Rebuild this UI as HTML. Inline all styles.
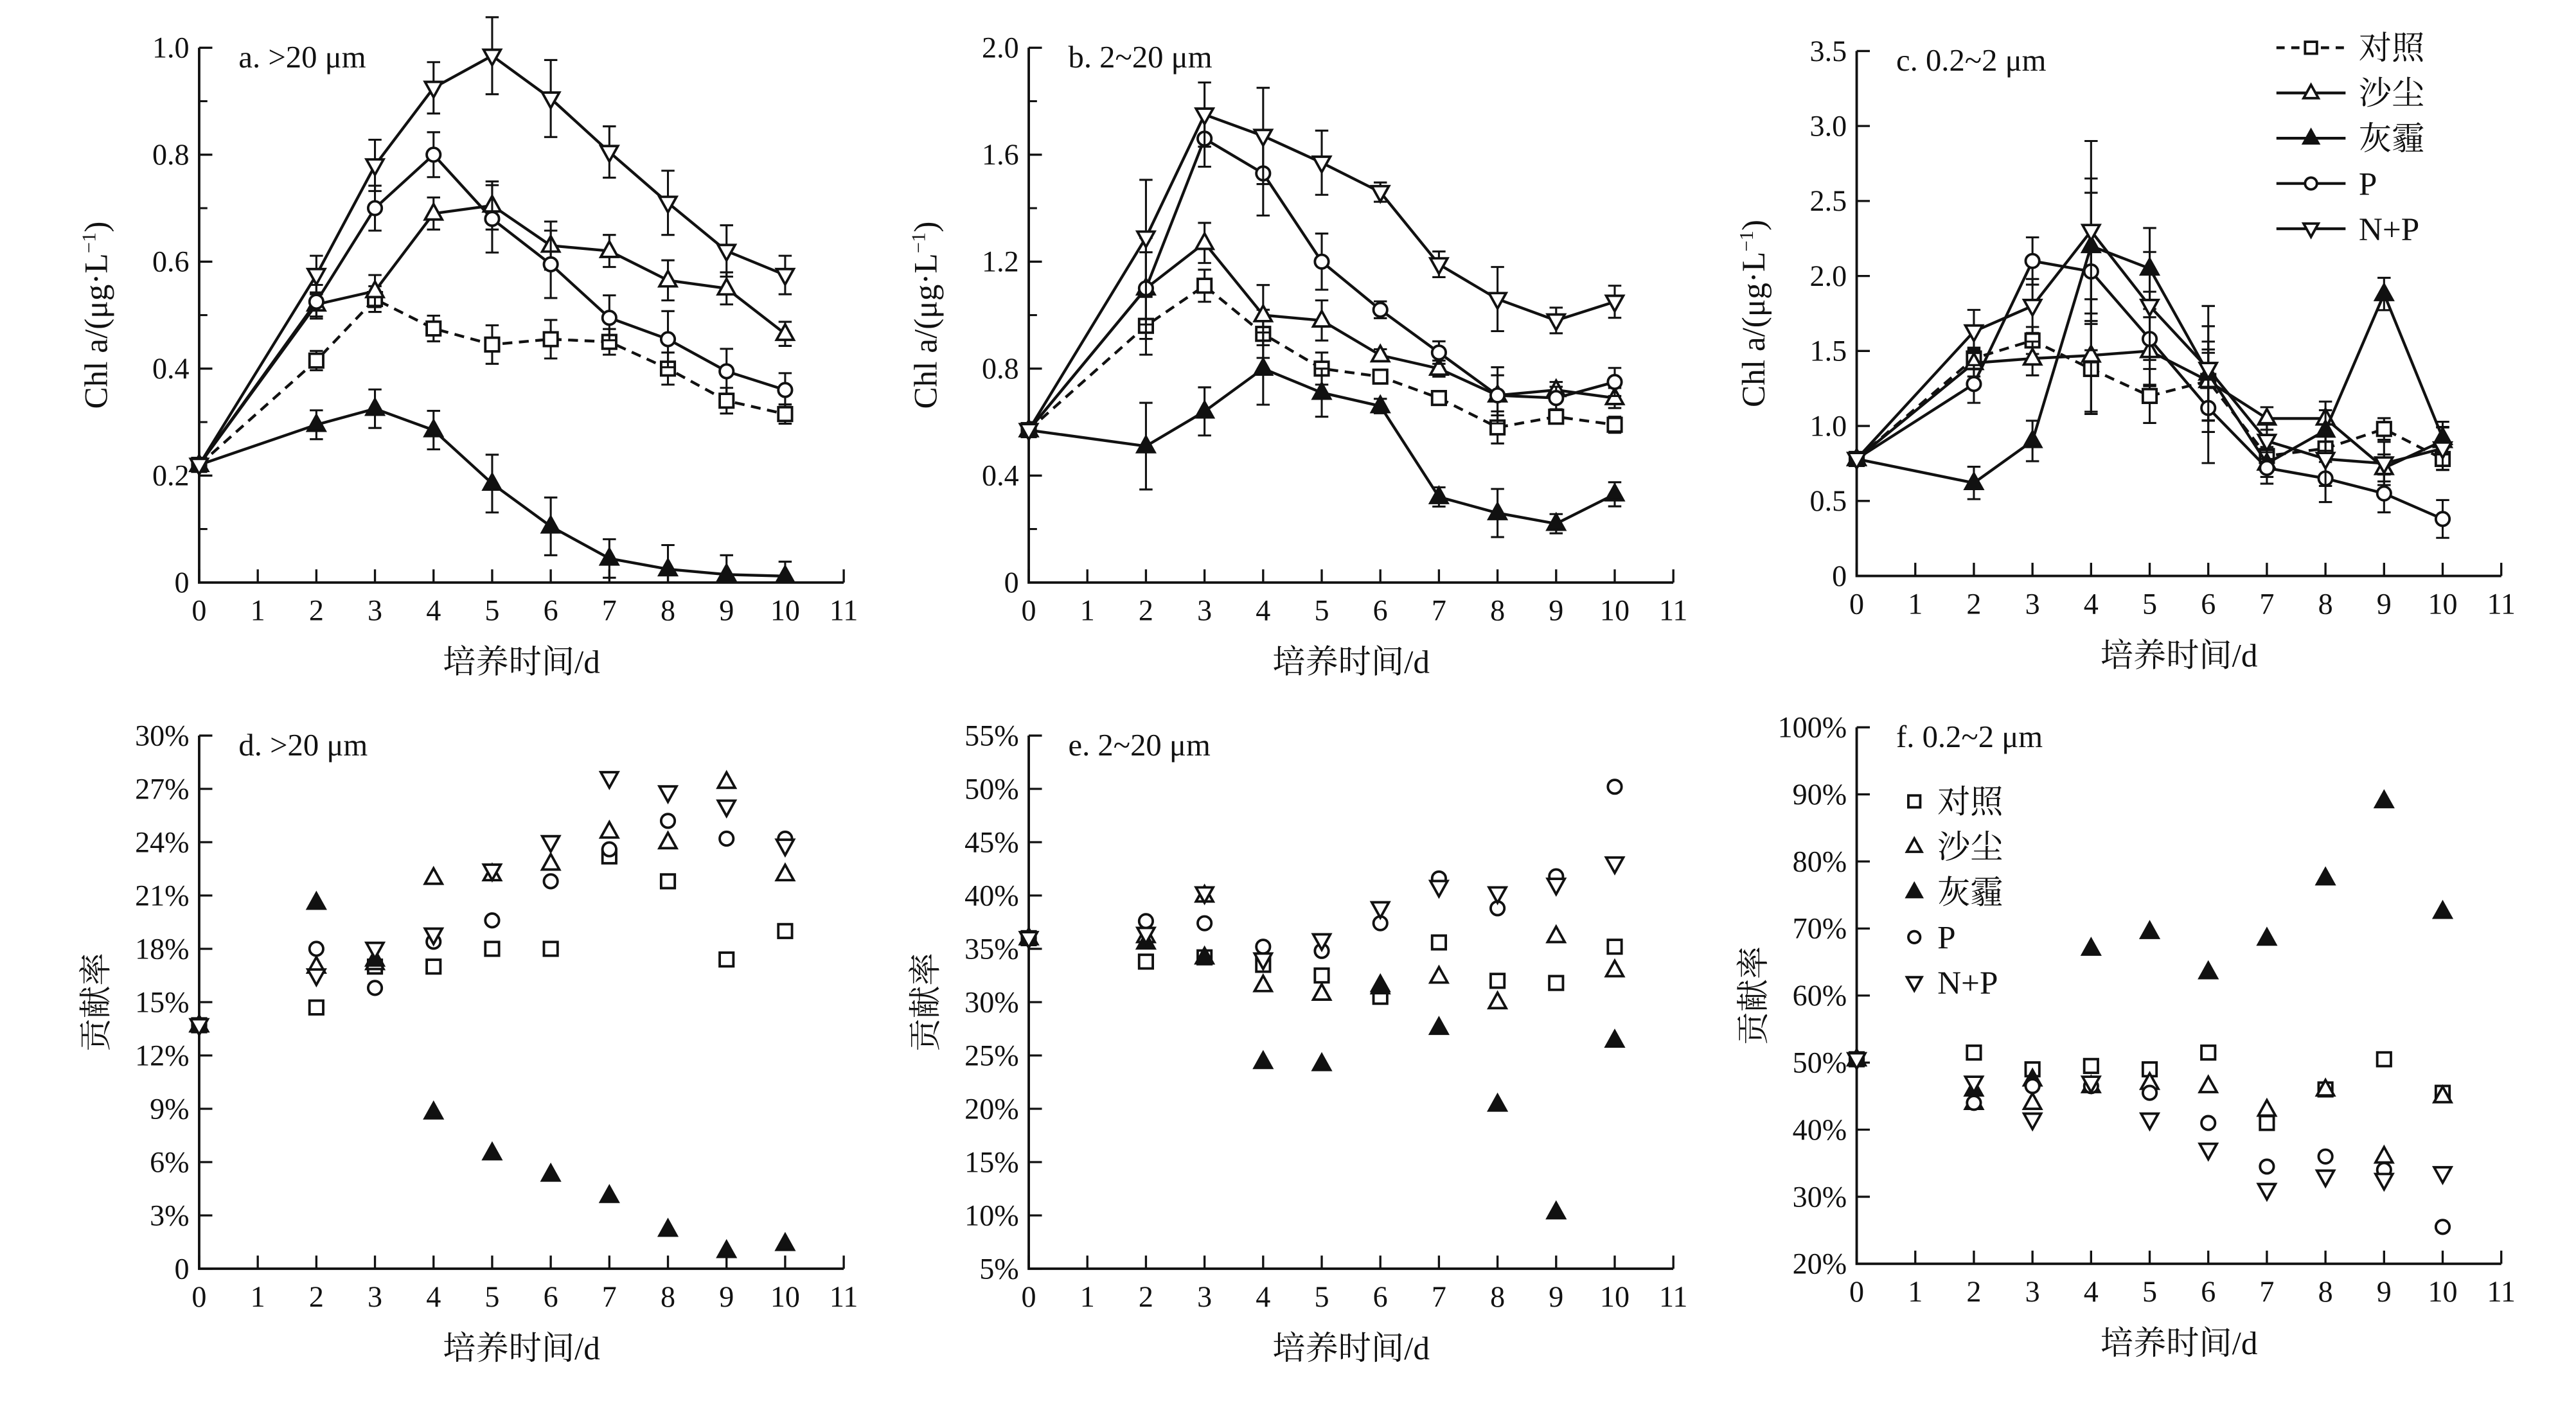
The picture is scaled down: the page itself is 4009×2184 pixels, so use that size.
<!DOCTYPE html>
<html><head><meta charset="utf-8">
<style>
html,body{margin:0;padding:0;background:#fff;}
svg{display:block;}
text{font-family:"Liberation Serif","Noto Serif CJK SC","Noto Sans CJK SC",serif;fill:#111;}
</style></head>
<body>
<svg id="chart" xmlns="http://www.w3.org/2000/svg" width="4009" height="2184" viewBox="0 0 1565 852.6" preserveAspectRatio="none"></svg>
<script>
const days=[0,2,3,4,5,6,7,8,9,10];
const seriesNames=["对照","沙尘","灰霾","P","N+P"];
// Panel a (>20 μm)
const aCtrl=[0.22,0.415,0.53,0.475,0.445,0.455,0.45,0.40,0.34,0.315];
const aDust=[0.22,0.52,0.545,0.69,0.705,0.63,0.62,0.565,0.55,0.465];
const aHaze=[0.22,0.295,0.325,0.285,0.185,0.105,0.045,0.025,0.015,0.012];
const aP=[0.22,0.525,0.70,0.80,0.68,0.595,0.495,0.455,0.395,0.36];
const aNP=[0.22,0.575,0.78,0.925,0.985,0.905,0.805,0.71,0.62,0.575];
const aErr=[0,0.03,0.04,0.04,0.06,0.06,0.04,0.05,0.04,0.03];
// Panel b (2~20 μm)
const bCtrl=[0.57,0.96,1.11,0.93,0.80,0.77,0.69,0.58,0.62,0.59];
const bDust=[0.57,1.10,1.27,1.00,0.98,0.85,0.80,0.70,0.72,0.69];
const bHaze=[0.57,0.51,0.64,0.80,0.71,0.66,0.32,0.26,0.22,0.33];
const bP=[0.57,1.10,1.66,1.53,1.20,1.02,0.86,0.70,0.69,0.75];
const bNP=[0.57,1.29,1.75,1.67,1.57,1.46,1.19,1.06,0.98,1.05];
const bErr=[0,0.18,0.1,0.15,0.1,0.03,0.04,0.1,0.04,0.05];
// Panel c (0.2~2 μm)
const cCtrl=[0.78,1.45,1.57,1.38,1.20,1.30,0.80,0.85,0.98,0.78];
const cDust=[0.78,1.42,1.45,1.47,1.50,1.30,1.05,1.05,0.72,0.90];
const cHaze=[0.78,0.62,0.90,2.20,2.05,1.35,0.75,0.97,1.88,0.92];
const cP=[0.78,1.28,2.10,2.03,1.58,1.12,0.72,0.65,0.55,0.38];
const cNP=[0.78,1.63,1.80,2.30,1.80,1.38,0.90,0.78,0.75,0.85];
const cErr=[0,0.12,0.15,0.5,0.3,0.35,0.1,0.15,0.12,0.12];
// Panel d (%)
const dCtrl=[13.7,14.7,17.0,17.0,18.0,18.0,23.2,21.8,17.4,19.0];
const dDust=[13.7,17.0,17.2,22.0,22.2,22.8,24.6,24.0,27.4,22.2];
const dHaze=[13.7,20.6,17.4,8.8,6.5,5.3,4.1,2.2,1.0,1.4];
const dP=[13.7,18.0,15.8,18.4,19.6,21.8,23.6,25.2,24.2,24.2];
const dNP=[13.7,16.5,18.0,18.8,22.4,24.0,27.6,26.8,26.0,23.8];
// Panel e (%)
const eCtrl=[36,33.8,34.2,33.5,32.5,30.5,35.6,32.0,31.8,35.2];
const eDust=[36,36.2,40.0,31.6,30.8,31.6,32.4,30.0,36.2,33.0];
const eHaze=[36,35.6,34.2,24.4,24.2,31.4,27.6,20.4,10.3,26.4];
const eP=[36,37.6,37.4,35.2,34.8,37.4,41.6,38.8,41.8,50.2];
const eNP=[36,36.4,40.2,34.0,35.8,38.8,40.8,40.2,41.0,43.0];
// Panel f (%)
const fCtrl=[50.5,51.5,49,49.5,49,51.5,41,46,50.5,45.5];
const fDust=[50.5,44,44,46.5,47,46.5,43,46,36,45];
const fHaze=[50.5,46,47.5,67,69.5,63.5,68.5,77.5,89,72.5];
const fP=[50.5,44,46.5,46.5,45.5,41,34.5,36,34,25.5];
const fNP=[50.5,47,41.5,47,41.5,37,31,33,32.5,33.5];
const xTicks=[0,1,2,3,4,5,6,7,8,9,10,11];

const NS="http://www.w3.org/2000/svg";
const svg=document.getElementById('chart');
function el(tag,attrs,parent){const e=document.createElementNS(NS,tag);for(const k in attrs)e.setAttribute(k,attrs[k]);(parent||svg).appendChild(e);return e;}
function marker(g,type,x,y,r){
  let m;
  if(type===0){m=el('rect',{x:x-r*0.8,y:y-r*0.8,width:r*1.6,height:r*1.6,fill:'#fff',stroke:'#111','stroke-width':1.5},g);}
  else if(type===1||type===2){m=el('polygon',{points:`${x},${y-r*1.1} ${x-r},${y+r*0.7} ${x+r},${y+r*0.7}`,fill:type===2?'#111':'#fff',stroke:'#111','stroke-width':1.5},g);}
  else if(type===3){m=el('circle',{cx:x,cy:y,r:r*0.8,fill:'#fff',stroke:'#111','stroke-width':1.5},g);}
  else {m=el('polygon',{points:`${x},${y+r*1.1} ${x-r},${y-r*0.7} ${x+r},${y-r*0.7}`,fill:'#fff',stroke:'#111','stroke-width':1.5},g);}
  return m;
}
function panel(cfg){
  const g=el('g',{});
  
  
  const x0=cfg.x0,unit=35.6,yb=cfg.yb,yt=cfg.yt;
  const X=v=>x0+v*unit;
  const Y=v=>yb-(v-cfg.ymin)/(cfg.ymax-cfg.ymin)*(yb-yt);
  const ax=el('path',{d:`M${X(0)},${yt} V${yb} H${X(11)}`,stroke:'#111','stroke-width':1.5,fill:'none'},g);
  
  
  xTicks.forEach(t=>{
    el('line',{x1:X(t),x2:X(t),y1:yb,y2:yb-8,stroke:'#111','stroke-width':1.3},g);
    const tx=el('text',{x:X(t),y:yb+23,'font-size':18,'text-anchor':'middle'},g);
    tx.textContent=t;
    
    
  });
  cfg.yTicks.forEach((t,i)=>{
    el('line',{x1:X(0),x2:X(0)+8,y1:Y(t),y2:Y(t),stroke:'#111','stroke-width':1.3},g);
    const tx=el('text',{x:X(0)-6,y:Y(t)+6,'font-size':18,'text-anchor':'end'},g);
    tx.textContent=cfg.yLabels[i];
    
    
  });
  (cfg.minor||[]).forEach(t=>{el('line',{x1:X(0),x2:X(0)+5,y1:Y(t),y2:Y(t),stroke:'#111','stroke-width':1.2},g);});
  const xt=el('text',{x:X(5.5),y:yb+55,'font-size':20,'text-anchor':'middle'},g);
  xt.textContent='培养时间/d';
  
  
  const yl=el('text',{x:0,y:0,'font-size':20,'text-anchor':'middle',transform:`translate(${X(0)-56},${(yb+yt)/2}) rotate(-90)`},g);
  yl.innerHTML=cfg.ytitle;
  
  
  const pt=el('text',{x:X(0)+24,y:yt+12,'font-size':19},g);
  pt.textContent=cfg.title;
  
  
  cfg.series.forEach((vals,si)=>{
    const sg=el('g',{},g);
    
    
    if(cfg.lines){
      const d=vals.map((v,i)=>(i?'L':'M')+X(days[i])+','+Y(v)).join(' ');
      const ln=el('path',{d:d,fill:'none',stroke:'#111','stroke-width':1.7,'stroke-dasharray':si===0?'6,4':'none'},sg);
      
      
      vals.forEach((v,i)=>{
        const e=cfg.err[i]*(0.6+0.15*si);
        if(e>0){
          const y1=Y(v+e),y2=Y(Math.max(cfg.ymin,v-e));
          el('path',{d:`M${X(days[i])},${y1} V${y2} M${X(days[i])-4},${y1} H${X(days[i])+4} M${X(days[i])-4},${y2} H${X(days[i])+4}`,stroke:'#111','stroke-width':1.2,fill:'none'},sg);
        }
      });
    }
    vals.forEach((v,i)=>{
      const m=marker(sg,si,X(days[i]),Y(v),5.2);
      
      
    });
  });
}
const ytA='Chl a/(μg·L<tspan dy="-7" font-size="12">−1</tspan><tspan dy="7">)</tspan>';
panel({name:'panel-a',x0:121,yb:354,yt:29,ymin:0,ymax:1,yTicks:[0,0.2,0.4,0.6,0.8,1.0],yLabels:['0','0.2','0.4','0.6','0.8','1.0'],minor:[0.1,0.3,0.5,0.7,0.9],title:'a. >20 μm',ytitle:ytA,lines:true,err:aErr,series:[aCtrl,aDust,aHaze,aP,aNP]});
panel({name:'panel-b',x0:625,yb:354,yt:29,ymin:0,ymax:2,yTicks:[0,0.4,0.8,1.2,1.6,2.0],yLabels:['0','0.4','0.8','1.2','1.6','2.0'],minor:[0.2,0.6,1.0,1.4,1.8],title:'b. 2~20 μm',ytitle:ytA,lines:true,err:bErr,series:[bCtrl,bDust,bHaze,bP,bNP]});
panel({name:'panel-c',x0:1128,yb:350,yt:31,ymin:0,ymax:3.5,yTicks:[0,0.5,1,1.5,2,2.5,3,3.5],yLabels:['0','0.5','1.0','1.5','2.0','2.5','3.0','3.5'],title:'c. 0.2~2 μm',ytitle:ytA,lines:true,err:cErr,series:[cCtrl,cDust,cHaze,cP,cNP]});
panel({name:'panel-d',x0:121,yb:771,yt:447,ymin:0,ymax:30,yTicks:[0,3,6,9,12,15,18,21,24,27,30],yLabels:['0','3%','6%','9%','12%','15%','18%','21%','24%','27%','30%'],title:'d. >20 μm',ytitle:'贡献率',lines:false,series:[dCtrl,dDust,dHaze,dP,dNP]});
panel({name:'panel-e',x0:625,yb:771,yt:447,ymin:5,ymax:55,yTicks:[5,10,15,20,25,30,35,40,45,50,55],yLabels:['5%','10%','15%','20%','25%','30%','35%','40%','45%','50%','55%'],title:'e. 2~20 μm',ytitle:'贡献率',lines:false,series:[eCtrl,eDust,eHaze,eP,eNP]});
panel({name:'panel-f',x0:1128,yb:768,yt:442,ymin:20,ymax:100,yTicks:[20,30,40,50,60,70,80,90,100],yLabels:['20%','30%','40%','50%','60%','70%','80%','90%','100%'],title:'f. 0.2~2 μm',ytitle:'贡献率',lines:false,series:[fCtrl,fDust,fHaze,fP,fNP]});

const lg=el('g',{});


seriesNames.forEach((n,i)=>{
  const y=29+i*27.5;
  const le=el('g',{},lg);
  
  
  el('line',{x1:1383,x2:1425,y1:y,y2:y,stroke:'#111','stroke-width':1.7,'stroke-dasharray':i===0?'5,4':'none'},le);
  marker(le,i,1404,y,4.5);
  const t=el('text',{x:1433,y:y+7,'font-size':20},le);t.textContent=n;
});
const lf=el('g',{});


seriesNames.forEach((n,i)=>{
  const y=487+i*27.5;
  const le=el('g',{},lf);
  
  
  marker(le,i,1163,y,4.5);
  const t=el('text',{x:1177,y:y+7,'font-size':20},le);t.textContent=n;
});
</script>
</body></html>
